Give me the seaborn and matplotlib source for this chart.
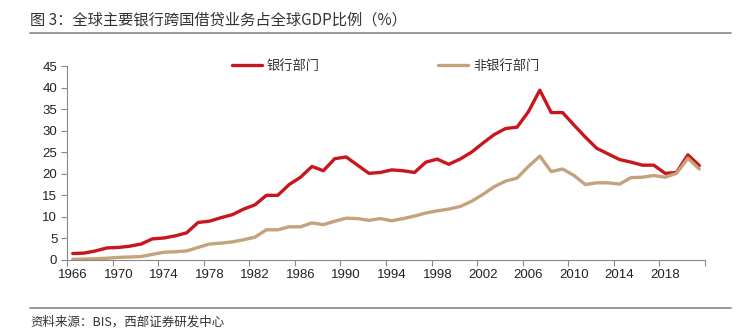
import numpy as np
import pandas as pd
import matplotlib
matplotlib.use("Agg")
import matplotlib.pyplot as plt
import seaborn as sns

years = list(range(1966, 2022))
bank = [1.5, 1.6, 2.1, 2.8, 2.9, 3.2, 3.7, 4.9, 5.1, 5.6,
        6.3, 8.7, 9.0, 9.8, 10.5, 11.8, 12.8, 15.0, 15.0, 17.5,
        19.2, 21.7, 20.7, 23.5, 23.9, 22.0, 20.1, 20.3, 20.9, 20.7,
        20.3, 22.7, 23.4, 22.2, 23.4, 25.0, 27.1, 29.1, 30.5, 30.8,
        34.4, 39.4, 34.2, 34.2, 31.3, 28.5, 25.9, 24.6, 23.3, 22.7,
        22.0, 22.0, 20.1, 20.3, 24.4, 21.9]
nonbank = [0.15, 0.2, 0.3, 0.4, 0.6, 0.7, 0.8, 1.3, 1.8, 1.9,
           2.1, 2.9, 3.7, 3.9, 4.2, 4.7, 5.3, 7.0, 7.0, 7.7,
           7.7, 8.6, 8.2, 9.0, 9.7, 9.6, 9.2, 9.6, 9.1, 9.6,
           10.2, 10.9, 11.4, 11.8, 12.4, 13.6, 15.2, 17.0, 18.3, 19.0,
           21.7, 24.1, 20.5, 21.1, 19.6, 17.5, 17.9, 17.9, 17.6, 19.1,
           19.2, 19.6, 19.2, 20.1, 23.6, 21.1]
series_names = ["银行部门", "非银行部门"]
xtick_years = list(range(1966, 2022, 4))
yticks = list(range(0, 50, 5))

title = "图 3：全球主要银行跨国借贷业务占全球GDP比例（%）"
source = "资料来源：BIS，西部证券研发中心"

df = pd.DataFrame({
    "year": years * 2,
    "value": bank + nonbank,
    "series": [series_names[0]] * len(years) + [series_names[1]] * len(years),
})

sns.set_theme(style="white")
plt.rcParams["font.family"] = ["Liberation Sans", "Noto Sans CJK SC", "DejaVu Sans"]

fig = plt.figure(figsize=(7.38, 3.32), dpi=100)
ax = fig.add_axes([0.0908, 0.2169, 0.9553 - 0.0908, 0.8012 - 0.2169])

palette = {series_names[0]: "#C8161E", series_names[1]: "#C4A27C"}
sns.lineplot(data=df, x="year", y="value", hue="series", palette=palette,
             linewidth=2.4, ax=ax, legend=True)

ax.set_xlim(1965.5, 2021.5)
ax.set_ylim(0, 45)
ax.set_yticks(yticks)
ax.set_yticklabels([str(v) for v in yticks], fontsize=9.5, color="#222222")
ax.set_xticks([y - 0.5 for y in xtick_years] + [2021.5])
ax.set_xticklabels([""] * (len(xtick_years) + 1))
for yr in xtick_years:
    ax.text(yr, -2.2, str(yr), ha="center", va="top", fontsize=9.5, color="#222222")
ax.set_xlabel("")
ax.set_ylabel("")

for s in ["top", "right"]:
    ax.spines[s].set_visible(False)
for s in ["left", "bottom"]:
    ax.spines[s].set_color("#888888")
    ax.spines[s].set_linewidth(0.8)
ax.tick_params(axis="both", which="both", length=4, width=0.8, color="#888888",
               direction="out", left=True, bottom=True)
ax.tick_params(axis="y", pad=3)

fs = 9.5
em = fs * 100 / 72.0  # px per em
leg = ax.legend(loc="center left", bbox_to_anchor=((232 - 67) / 638.0, 1.0), ncol=2,
                frameon=False, borderpad=0, borderaxespad=0,
                handlelength=30 / em, columnspacing=118 / em, handletextpad=5 / em,
                prop={"family": ["Noto Sans CJK SC"], "size": fs})
for t in leg.get_texts():
    t.set_color("#333333")

# title & source
fig.text(0.041, 0.94, title, fontsize=11, color="#333333",
         family=["Noto Sans CJK SC", "DejaVu Sans"], ha="left", va="center")
fig.add_artist(plt.Line2D([0.041, 0.99], [0.9, 0.9], color="#888888", linewidth=1.2))
fig.add_artist(plt.Line2D([0.041, 0.99], [0.072, 0.072], color="#888888", linewidth=1.2))
fig.text(0.041, 0.03, source, fontsize=9, color="#333333",
         family=["Noto Sans CJK SC", "DejaVu Sans"], ha="left", va="center")

fig.savefig("out.png", dpi=100)
